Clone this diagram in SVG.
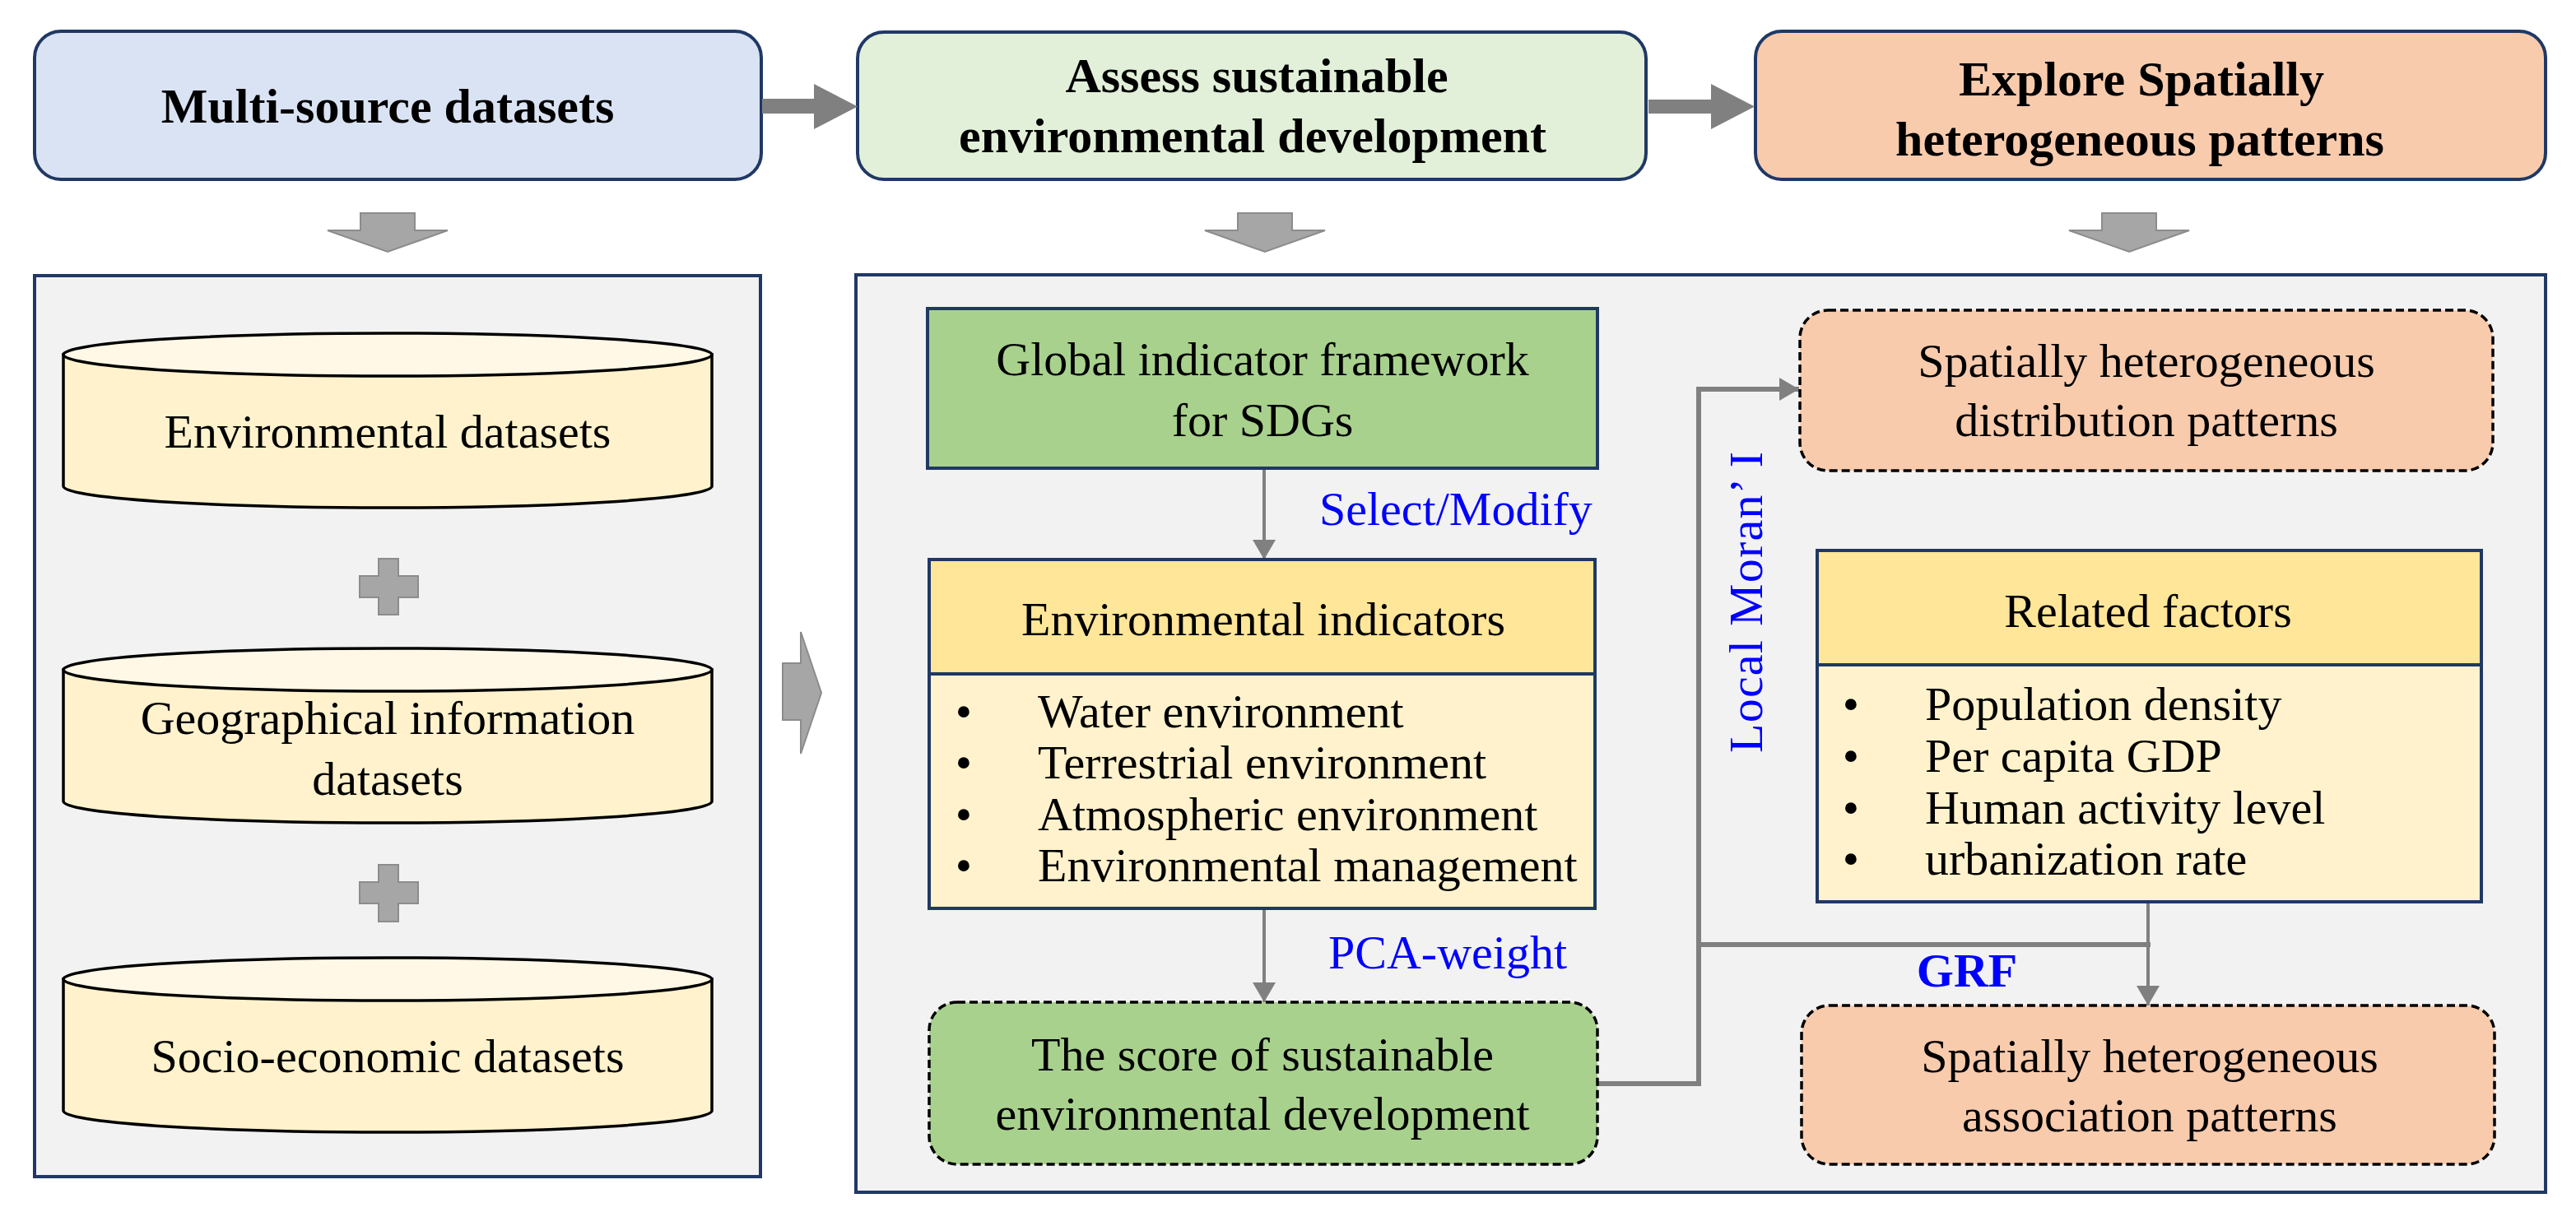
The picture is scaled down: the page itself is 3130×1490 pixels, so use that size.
<svg xmlns="http://www.w3.org/2000/svg" width="3130" height="1490" viewBox="0 0 3130 1490">
<style>
.t{font-family:"Liberation Serif","Times New Roman",serif;font-size:58px;fill:#000}
.c{text-anchor:middle}
.h{font-family:"Liberation Serif","Times New Roman",serif;font-size:60px;font-weight:bold;fill:#000;text-anchor:middle}
.blue{font-family:"Liberation Serif","Times New Roman",serif;font-size:58px;fill:#0000ff}
.top{stroke:#203864;stroke-width:4}
.panel{fill:#f2f2f2;stroke:#203864;stroke-width:4}
.box{stroke:#203864;stroke-width:4}
.dash{stroke:#000;stroke-width:3.5;stroke-dasharray:10 5}
.cylb{fill:#fff2cc;stroke:#000;stroke-width:3.5}
.cylt{fill:#fff8e6;stroke:#000;stroke-width:3.5}
.garrow{fill:#a6a6a6;stroke:#8c8c8c;stroke-width:2}
.rarrow{fill:#808080}
.thin{fill:none;stroke:#808080;stroke-width:4}
.thick{fill:none;stroke:#808080;stroke-width:6}
</style>
<defs>
<marker id="ah" markerUnits="userSpaceOnUse" markerWidth="28" markerHeight="28" refX="24" refY="14" orient="auto">
<path d="M0,0 L24,14 L0,28 Z" fill="#808080"/>
</marker>
</defs>
<rect width="3130" height="1490" fill="#ffffff"/>

<!-- panels -->
<rect id="panel-left" class="panel" x="42" y="335" width="882" height="1095"/>
<rect id="panel-right" class="panel" x="1040" y="334" width="2053" height="1115"/>

<!-- top header nodes -->
<g id="node-multisource">
<rect class="top" x="42" y="38" width="883" height="180" rx="32" fill="#dae3f3"/>
<text class="h" x="471" y="149">Multi-source datasets</text>
</g>
<g id="node-assess">
<rect class="top" x="1042" y="39" width="958" height="179" rx="32" fill="#e2f0d9"/>
<text class="h" x="1527" y="112">Assess sustainable</text>
<text class="h" x="1522" y="185">environmental development</text>
</g>
<g id="node-explore">
<rect class="top" x="2133" y="38" width="960" height="180" rx="32" fill="#f8cbad"/>
<text class="h" x="2602" y="116">Explore Spatially</text>
<text class="h" x="2600" y="189">heterogeneous patterns</text>
</g>

<!-- block arrows -->
<g id="block-arrows">
<path class="rarrow" d="M926,120 H989 V102 L1042,129.5 L989,157 V138 H926 Z"/>
<path class="rarrow" d="M2003,121 H2079 V102 L2132,129.5 L2079,157 V138 H2003 Z"/>
<path class="garrow" d="M438,259 H504 V280 H544 L471,306 L398,280 H438 Z"/>
<path class="garrow" d="M1504,259 H1570 V280 H1610 L1537,306 L1464,280 H1504 Z"/>
<path class="garrow" d="M2554,259 H2620 V280 H2660 L2587,306 L2514,280 H2554 Z"/>
<path class="garrow" d="M951,806 H973 V768 L998,842 L973,916 V875 H951 Z"/>
</g>

<!-- left column datasets -->
<g id="node-env-datasets">
<path class="cylb" d="M77,431 V591 A394,26 0 0 0 865,591 V431 Z"/>
<ellipse class="cylt" cx="471" cy="431" rx="394" ry="26"/>
<text class="t c" x="471" y="544">Environmental  datasets</text>
</g>
<g id="plus-1">
<path class="garrow" d="M460,679 H484 V700 H508 V726 H484 V747 H460 V726 H437 V700 H460 Z"/>
</g>
<g id="node-geo-datasets">
<path class="cylb" d="M77,814 V974 A394,26 0 0 0 865,974 V814 Z"/>
<ellipse class="cylt" cx="471" cy="814" rx="394" ry="26"/>
<text class="t c" x="471" y="892">Geographical  information</text>
<text class="t c" x="471" y="966">datasets</text>
</g>
<g id="plus-2">
<path class="garrow" d="M460,1051 H484 V1072 H508 V1098 H484 V1120 H460 V1098 H437 V1072 H460 Z"/>
</g>
<g id="node-socio-datasets">
<path class="cylb" d="M77,1190 V1350 A394,26 0 0 0 865,1350 V1190 Z"/>
<ellipse class="cylt" cx="471" cy="1190" rx="394" ry="26"/>
<text class="t c" x="471" y="1303">Socio-economic  datasets</text>
</g>

<!-- connectors -->
<g id="connectors">
<line class="thin" x1="1536" y1="569" x2="1536" y2="680" marker-end="url(#ah)"/>
<line class="thin" x1="1536" y1="1104" x2="1536" y2="1218" marker-end="url(#ah)"/>
<polyline class="thick" points="1941,1317 2064,1317 2064,473 2186,473" marker-end="url(#ah)"/>
<line class="thick" x1="2064" y1="1148" x2="2613" y2="1148"/>
<line class="thin" x1="2610" y1="1096" x2="2610" y2="1222" marker-end="url(#ah)"/>
<text class="blue" x="1603" y="638">Select/Modify</text>
<text class="blue" x="1614" y="1177">PCA-weight</text>
<text class="blue" x="0" y="0" transform="translate(2141,732) rotate(-90)" text-anchor="middle" font-size="60" textLength="366">Local Moran’ I</text>
<text class="blue" x="2390" y="1199" text-anchor="middle" font-weight="bold">GRF</text>
</g>

<!-- right panel nodes -->
<g id="node-global">
<rect class="box" x="1127" y="375" width="814" height="194" fill="#a9d18e"/>
<text class="t c" x="1534" y="456">Global  indicator  framework</text>
<text class="t c" x="1534" y="530">for SDGs</text>
</g>
<g id="node-env-indicators">
<rect class="box" x="1129" y="680" width="809" height="424" fill="#fff2cc"/>
<rect class="box" x="1129" y="680" width="809" height="139" fill="#ffe699"/>
<text class="t c" x="1535" y="772">Environmental  indicators</text>
<text class="t c" x="1171" y="884">•</text><text class="t" x="1261" y="884">Water environment</text>
<text class="t c" x="1171" y="946">•</text><text class="t" x="1261" y="946">Terrestrial  environment</text>
<text class="t c" x="1171" y="1009">•</text><text class="t" x="1261" y="1009">Atmospheric environment</text>
<text class="t c" x="1171" y="1071">•</text><text class="t" x="1261" y="1071">Environmental management</text>
</g>
<g id="node-score">
<rect class="dash" x="1129" y="1218" width="812" height="197" rx="34" fill="#a9d18e"/>
<text class="t c" x="1534" y="1301">The score of sustainable</text>
<text class="t c" x="1534" y="1373">environmental  development</text>
</g>
<g id="node-distribution">
<rect class="dash" x="2187" y="377" width="842" height="195" rx="34" fill="#f8cbad"/>
<text class="t c" x="2608" y="458">Spatially  heterogeneous</text>
<text class="t c" x="2608" y="530">distribution  patterns</text>
</g>
<g id="node-related">
<rect class="box" x="2208" y="669" width="807" height="427" fill="#fff2cc"/>
<rect class="box" x="2208" y="669" width="807" height="139" fill="#ffe699"/>
<text class="t c" x="2610" y="762">Related factors</text>
<text class="t c" x="2249" y="875">•</text><text class="t" x="2339" y="875">Population density</text>
<text class="t c" x="2249" y="938">•</text><text class="t" x="2339" y="938">Per capita GDP</text>
<text class="t c" x="2249" y="1001">•</text><text class="t" x="2339" y="1001">Human activity  level</text>
<text class="t c" x="2249" y="1063">•</text><text class="t" x="2339" y="1063">urbanization rate</text>
</g>
<g id="node-association">
<rect class="dash" x="2189" y="1222" width="842" height="193" rx="34" fill="#f8cbad"/>
<text class="t c" x="2612" y="1303">Spatially  heterogeneous</text>
<text class="t c" x="2612" y="1375">association  patterns</text>
</g>
</svg>
